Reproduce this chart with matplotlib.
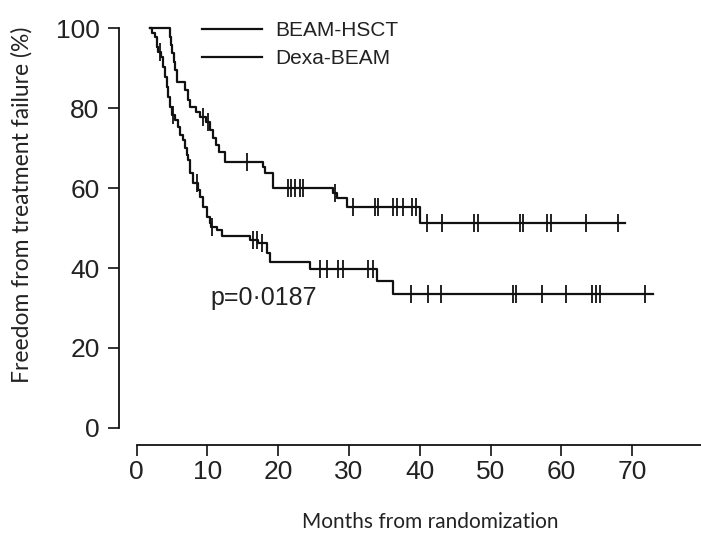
import numpy as np
import matplotlib.pyplot as plt

# =============================================================================
# DATA (months / percent)
# =============================================================================

beam_t = [1.9, 4.73, 4.87, 5.01, 5.30, 5.44, 5.72, 6.85, 7.27, 7.56, 8.40, 8.97,
          9.82, 10.38, 10.81, 11.23, 11.65, 12.50, 17.87, 18.15, 19.28, 27.75,
          28.32, 29.73, 40.04]
beam_s = [100, 97.75, 95.75, 93.75, 91.5, 89.5, 86.5, 84.5, 82, 80.25, 79, 77.75,
          76.5, 74.5, 72.5, 70.75, 69, 66.5, 65.25, 63.75, 60, 58.75,
          57.5, 55.25, 51.25]
beam_end = 68.9
beam_cens = [9.4, 10.1, 15.6, 21.4, 21.8, 22.4, 23.1, 23.5, 28.0, 30.6, 33.7, 34.1,
             36.2, 36.8, 37.6, 38.9, 39.5, 41.0, 43.2, 47.7, 48.2, 54.2, 54.6,
             58.0, 58.5, 63.4, 68.0]

dexa_t = [1.9, 2.19, 2.61, 2.90, 3.04, 3.46, 3.74, 4.03, 4.31, 4.45, 4.73, 5.01,
          5.44, 5.86, 6.14, 6.57, 6.85, 7.13, 7.27, 7.56, 7.98, 8.69, 8.97, 9.39,
          9.96, 10.38, 10.52, 11.37, 12.08, 16.03, 17.16, 18.43, 18.86, 24.51,
          33.97, 36.23]
dexa_s = [100, 98.75, 97.75, 95.25, 94, 92.75, 90.25, 87.75, 85.25, 82.75, 80.25,
          78.25, 77, 75.25, 73.25, 72, 70, 68.25, 67, 63.75, 61.25, 59.5, 57.75,
          55.25, 52.75, 51.25, 50.25, 49.5, 48, 47, 46.25, 43.75, 41.5, 39.75,
          36.75, 33.5]
dexa_end = 72.95
dexa_cens = [3.32, 5.16, 8.55, 10.66, 16.45, 17.02, 17.73, 25.92, 26.91, 28.46,
             29.17, 32.70, 33.40, 38.77, 41.17, 43.01, 53.18, 53.6, 57.27, 60.66,
             64.34, 64.9, 65.47, 71.82]

x_ticks = [0, 10, 20, 30, 40, 50, 60, 70]
y_ticks = [0, 20, 40, 60, 80, 100]
labels = ["BEAM-HSCT", "Dexa-BEAM"]
p_text = "p=0\u00b70187"

# =============================================================================
# PLOT
# =============================================================================

INK = "#111111"
TICK_FONT = "Liberation Sans"
LABEL_FONT = "Lato"

fig = plt.figure(figsize=(7.01, 5.36), dpi=100)
ax = fig.add_axes([0.1698, 0.1698, 0.8302, 0.8115])


def km_step(t, s, end):
    # extend the last level out to the end of follow-up
    tt = np.append(t, end)
    ss = np.append(s, s[-1])
    return tt, ss


def level_at(t, s, times):
    idx = np.searchsorted(t, times, side="right") - 1
    return np.asarray(s)[idx]


handles = []
for t, s, end, cens, lab in [(beam_t, beam_s, beam_end, beam_cens, labels[0]),
                             (dexa_t, dexa_s, dexa_end, dexa_cens, labels[1])]:
    tt, ss = km_step(t, s, end)
    h, = ax.step(tt, ss, where="post", color=INK, lw=1.6, label=lab)
    handles.append(h)
    ax.plot(cens, level_at(t, s, cens), ls="none", marker="|",
            ms=13, mew=1.3, color=INK)

ax.set_xlim(-2.47, 79.7)
ax.set_ylim(-4.25, 104.5)

for side in ["top", "right"]:
    ax.spines[side].set_visible(False)
ax.spines["left"].set_bounds(0, 100)
ax.spines["bottom"].set_bounds(0, 79.7)
for side in ["left", "bottom"]:
    ax.spines[side].set_linewidth(1.3)
    ax.spines[side].set_color(INK)

ax.set_xticks(x_ticks)
ax.set_yticks(y_ticks)
ax.tick_params(axis="both", direction="out", length=8, width=1.2, color=INK,
               labelcolor="#222222", labelsize=19)
ax.tick_params(axis="x", pad=3)
ax.tick_params(axis="y", pad=6)
for lbl in ax.get_xticklabels() + ax.get_yticklabels():
    lbl.set_family(TICK_FONT)

ax.text(10.4, 32.5, p_text, ha="left", va="center", fontsize=18,
        family=TICK_FONT, color="#222222")

fig.legend(handles=handles, loc="upper left", bbox_to_anchor=(0.288, 0.961),
           frameon=False, prop={"family": TICK_FONT, "size": 15},
           handlelength=2.9, handletextpad=0.6, labelspacing=0.45,
           borderpad=0, borderaxespad=0, labelcolor="#222222")

fig.text(22 / 701, 1 - 205 / 536, "Freedom from treatment failure (%)",
         rotation=90, ha="center", va="center", fontsize=16.5,
         family=LABEL_FONT, color="#222222")
fig.text(430 / 701, 1 - 522 / 536, "Months from randomization",
         ha="center", va="center", fontsize=15, family=LABEL_FONT,
         color="#222222")

fig.savefig("out.png", dpi=100)
